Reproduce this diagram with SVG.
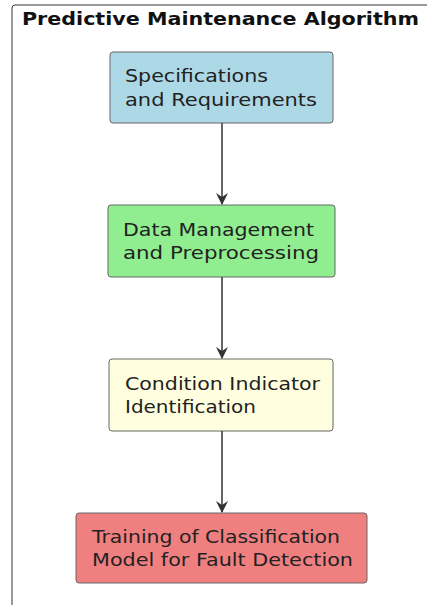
<svg xmlns="http://www.w3.org/2000/svg" width="427" height="605" viewBox="0 0 427 605">
<defs>
<style>
.box{stroke:#666;stroke-width:1;}
.t{font-family:"DejaVu Sans",sans-serif;font-size:18px;fill:#222;}
.title{font-family:"DejaVu Sans",sans-serif;font-size:17px;font-weight:bold;fill:#111;}
.edge{stroke:#333;stroke-width:1.5;fill:none;}
</style>
<marker id="arr" viewBox="0 0 12 12" refX="11" refY="6" markerWidth="12" markerHeight="12" markerUnits="userSpaceOnUse" orient="auto">
<path d="M0,0 L12,6 L0,12 L4,6 Z" fill="#333"/>
</marker>
</defs>
<rect width="427" height="605" fill="#fff"/>
<g id="frame">
<rect x="12" y="5" width="440" height="620" rx="3" fill="none" stroke="#333" stroke-width="1"/>
<text class="title" x="22" y="25" textLength="397" lengthAdjust="spacingAndGlyphs">Predictive Maintenance Algorithm</text>
</g>
<g id="n1">
<rect class="box" x="110" y="52" width="223" height="71" rx="3" fill="#ADD8E6"/>
<text class="t" x="125" y="82" textLength="143" lengthAdjust="spacingAndGlyphs">Specifications</text>
<text class="t" x="125" y="106" textLength="192" lengthAdjust="spacingAndGlyphs">and Requirements</text>
</g>
<g id="n2">
<rect class="box" x="108" y="205" width="227" height="72" rx="3" fill="#90EE90"/>
<text class="t" x="123" y="236" textLength="191" lengthAdjust="spacingAndGlyphs">Data Management</text>
<text class="t" x="123" y="259" textLength="196" lengthAdjust="spacingAndGlyphs">and Preprocessing</text>
</g>
<g id="n3">
<rect class="box" x="109" y="359" width="224" height="72" rx="3" fill="#FFFFE0"/>
<text class="t" x="125" y="390" textLength="195" lengthAdjust="spacingAndGlyphs">Condition Indicator</text>
<text class="t" x="125" y="413" textLength="131" lengthAdjust="spacingAndGlyphs">Identification</text>
</g>
<g id="n4">
<rect class="box" x="76" y="513" width="291" height="70" rx="3" fill="#F08080"/>
<text class="t" x="92" y="543" textLength="248" lengthAdjust="spacingAndGlyphs">Training of Classification</text>
<text class="t" x="92" y="566" textLength="261" lengthAdjust="spacingAndGlyphs">Model for Fault Detection</text>
</g>
<g id="edges">
<line class="edge" x1="222" y1="123" x2="222" y2="204" marker-end="url(#arr)"/>
<line class="edge" x1="222" y1="277" x2="222" y2="358" marker-end="url(#arr)"/>
<line class="edge" x1="222" y1="431" x2="222" y2="512" marker-end="url(#arr)"/>
</g>
</svg>
